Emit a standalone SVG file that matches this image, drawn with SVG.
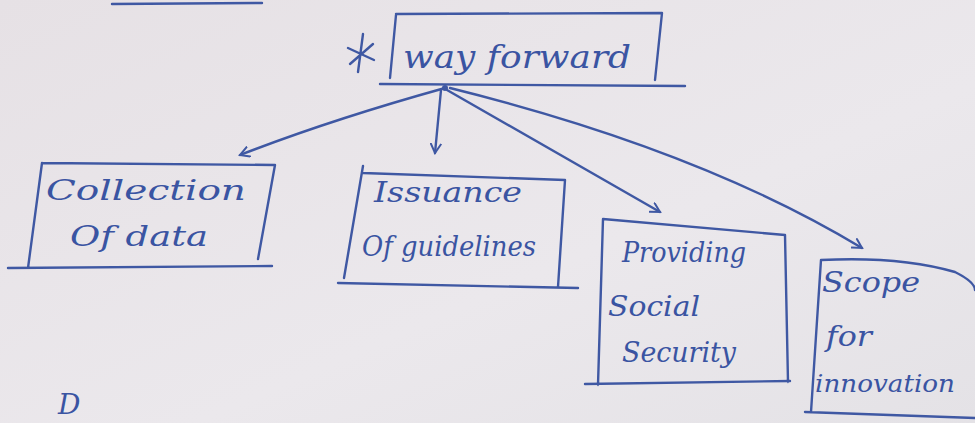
<svg xmlns="http://www.w3.org/2000/svg" width="975" height="423" viewBox="0 0 975 423">
  <defs>
    <linearGradient id="paper" x1="0" y1="0" x2="1" y2="1">
      <stop offset="0" stop-color="#e6e1e5"/>
      <stop offset="0.6" stop-color="#ebe8ec"/>
      <stop offset="1" stop-color="#e4e2e6"/>
    </linearGradient>
    <marker id="head" viewBox="0 0 12 12" refX="10" refY="6" markerWidth="12" markerHeight="12" markerUnits="userSpaceOnUse" orient="auto">
      <path d="M1,1 L10,6 L1,11" fill="none" stroke="#3f58a3" stroke-width="2" stroke-linecap="round"/>
    </marker>
  </defs>
  <style>
    .ink { fill: none; stroke: #3f58a3; stroke-width: 2.4; stroke-linecap: round; stroke-linejoin: round; }
    .hand { fill: #3a54a2; font-family: "DejaVu Serif", "Liberation Serif", serif; font-style: italic; }
  </style>

  <rect width="975" height="423" fill="url(#paper)"/>

  <!-- edge of the box above, cut off at the top -->
  <path class="ink" d="M112,4 L262,3"/>

  <!-- root: way forward -->
  <g id="way-forward">
    <path class="ink" d="M363,34 L358,72 M348,48 L374,60 M350,64 L373,44"/>
    <path class="ink" d="M396,15 L390,78 M396,14 L662,13 L655,80 M380,84 L685,86"/>
    <text class="hand" x="403" y="68" font-size="32" textLength="228" lengthAdjust="spacingAndGlyphs">way forward</text>
  </g>

  <!-- connectors from the hub under the root -->
  <g id="connectors">
    <path class="ink" marker-end="url(#head)" d="M445,88 Q330,120 240,155"/>
    <path class="ink" marker-end="url(#head)" d="M441,90 L435,153"/>
    <path class="ink" marker-end="url(#head)" d="M447,90 L660,212"/>
    <path class="ink" marker-end="url(#head)" d="M450,88 Q700,150 862,248"/>
    <circle cx="445" cy="88" r="3" fill="#3f58a3"/>
  </g>

  <g id="collection-of-data">
    <path class="ink" d="M42,163 L28,268 M42,163 L275,165 L258,259 M8,268 L272,266"/>
    <text class="hand" x="46" y="200" font-size="27" textLength="200" lengthAdjust="spacingAndGlyphs">Collection</text>
    <text class="hand" x="70" y="246" font-size="27" textLength="138" lengthAdjust="spacingAndGlyphs">Of data</text>
  </g>

  <g id="issuance-of-guidelines">
    <path class="ink" d="M363,166 L344,278 M363,173 L565,180 L558,287 M338,283 L578,288"/>
    <text class="hand" x="374" y="202" font-size="27" textLength="148" lengthAdjust="spacingAndGlyphs">Issuance</text>
    <text class="hand" x="362" y="256" font-size="27" textLength="174" lengthAdjust="spacingAndGlyphs">Of guidelines</text>
  </g>

  <g id="providing-social-security">
    <path class="ink" d="M603,219 L598,385 M603,219 L785,235 L788,382 M585,384 L790,381"/>
    <text class="hand" x="622" y="262" font-size="27" textLength="124" lengthAdjust="spacingAndGlyphs">Providing</text>
    <text class="hand" x="608" y="316" font-size="27" textLength="92" lengthAdjust="spacingAndGlyphs">Social</text>
    <text class="hand" x="622" y="362" font-size="27" textLength="114" lengthAdjust="spacingAndGlyphs">Security</text>
  </g>

  <g id="scope-for-innovation">
    <path class="ink" d="M821,260 L811,412 M821,260 Q900,256 955,272 Q975,282 975,290 M805,412 L975,418"/>
    <text class="hand" x="822" y="292" font-size="27" textLength="98" lengthAdjust="spacingAndGlyphs">Scope</text>
    <text class="hand" x="826" y="346" font-size="27" textLength="46" lengthAdjust="spacingAndGlyphs">for</text>
    <text class="hand" x="815" y="392" font-size="24" textLength="140" lengthAdjust="spacingAndGlyphs">innovation</text>
  </g>

  <!-- start of the next heading at the foot of the page -->
  <text class="hand" x="58" y="414" font-size="28">D</text>
</svg>
